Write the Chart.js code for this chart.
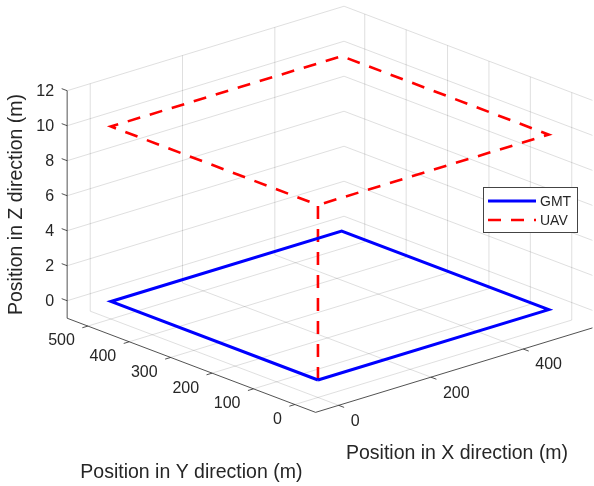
<!DOCTYPE html>
<html>
<head>
<meta charset="utf-8">
<script src="https://cdn.jsdelivr.net/npm/chart.js@4/dist/chart.umd.min.js"></script>
<style>
  html, body { margin: 0; padding: 0; background: #fff; }
  #wrap { width: 594px; height: 486px; }
</style>
</head>
<body>
<div id="wrap"><canvas id="c" width="594" height="486"></canvas></div>
<script>
// Tick values of the three axes
const xTicks = [0, 200, 400];
const yTicks = [0, 100, 200, 300, 400, 500];
const zTicks = [0, 2, 4, 6, 8, 10, 12];

// Axis limits
const xLimits = [-50, 550];
const yLimits = [-50, 550];
const zLimits = [-1, 12];

// Ground mobile terminal path (m)
const gmtX = [0, 500, 500, 0, 0];
const gmtY = [0, 0, 500, 500, 0];
const gmtZ = [0, 0, 0, 0, 0];

// UAV path (m): climb, then loop at altitude
const uavX = [0, 0, 0, 500, 500, 0];
const uavY = [0, 0, 500, 500, 0, 0];
const uavZ = [0, 10, 10, 10, 10, 10];

// Orthographic view of the plot box
const view = { azDeg: 41.9, sinEl: 0.34, zAspect: 0.6116 };
// Extent of the projected plane covered by the canvas
const frame = { xMin: -0.8866, xMax: 0.7102, yMin: -0.7438, yMax: 0.5626 };

const az = view.azDeg * Math.PI / 180;
const cA = Math.cos(az), sA = Math.sin(az);
function project(x, y, z) {
  const u = (x - (xLimits[0] + xLimits[1]) / 2) / (xLimits[1] - xLimits[0]);
  const v = (y - (yLimits[0] + yLimits[1]) / 2) / (yLimits[1] - yLimits[0]);
  const w = (z - (zLimits[0] + zLimits[1]) / 2) / (zLimits[1] - zLimits[0]);
  return {
    x: u * cA - v * sA,
    y: view.sinEl * (u * sA + v * cA) + view.zAspect * w
  };
}
function path(xs, ys, zs) {
  return xs.map((x, i) => project(x, ys[i], zs[i]));
}

const TEXT = '#262626';
const FONT = '"Liberation Sans", Arial, Helvetica, sans-serif';

const box3d = {
  id: 'box3d',
  beforeDatasetsDraw(chart) {
    const ctx = chart.ctx;
    const sx = chart.scales.x, sy = chart.scales.y;
    const P = (x, y, z) => {
      const p = project(x, y, z);
      return [sx.getPixelForValue(p.x), sy.getPixelForValue(p.y)];
    };
    const seg = (a, b) => {
      ctx.beginPath(); ctx.moveTo(a[0], a[1]); ctx.lineTo(b[0], b[1]); ctx.stroke();
    };
    const [x0, x1] = xLimits, [y0, y1] = yLimits, [z0, z1] = zLimits;
    ctx.save();
    // grid on floor and the two back walls
    ctx.strokeStyle = 'rgba(38,38,38,0.15)';
    ctx.lineWidth = 1;
    xTicks.forEach(t => { seg(P(t, y0, z0), P(t, y1, z0)); seg(P(t, y1, z0), P(t, y1, z1)); });
    yTicks.forEach(t => { seg(P(x0, t, z0), P(x1, t, z0)); seg(P(x1, t, z0), P(x1, t, z1)); });
    zTicks.forEach(t => { seg(P(x0, y1, t), P(x1, y1, t)); seg(P(x1, y0, t), P(x1, y1, t)); });

    // axis lines
    ctx.strokeStyle = TEXT;
    ctx.lineWidth = 0.8;
    seg(P(x0, y0, z0), P(x1, y0, z0));
    seg(P(x0, y0, z0), P(x0, y1, z0));
    seg(P(x0, y1, z0), P(x0, y1, z1));

    // tick marks
    const tx = 0.02 * (x1 - x0), ty = 0.022 * (y1 - y0);
    xTicks.forEach(t => seg(P(t, y0, z0), P(t, y0 - ty, z0)));
    yTicks.forEach(t => seg(P(x0, t, z0), P(x0 - tx, t, z0)));
    zTicks.forEach(t => seg(P(x0, y1, t), P(x0, y1 + ty, t)));

    // tick labels
    ctx.fillStyle = TEXT;
    ctx.font = '16px ' + FONT;
    ctx.textBaseline = 'middle';
    ctx.textAlign = 'left';
    xTicks.forEach(t => { const p = P(t, y0, z0); ctx.fillText(String(t), p[0] + 12, p[1] + 16); });
    ctx.textAlign = 'right';
    yTicks.forEach(t => { const p = P(x0, t, z0); ctx.fillText(String(t), p[0] - 13, p[1] + 15); });
    zTicks.forEach(t => { const p = P(x0, y1, t); ctx.fillText(String(t), p[0] - 13, p[1] + 1); });

    // axis titles
    ctx.font = '19.5px ' + FONT;
    ctx.textAlign = 'center';
    const xm = P((x0 + x1) / 2, y0, z0);
    ctx.fillText('Position in X direction (m)', xm[0] + 3, xm[1] + 83);
    const ym = P(x0, (y0 + y1) / 2, z0);
    ctx.fillText('Position in Y direction (m)', ym[0], ym[1] + 107);
    const zm = P(x0, y1, (z0 + z1) / 2);
    ctx.translate(17, zm[1]);
    ctx.rotate(-Math.PI / 2);
    ctx.fillText('Position in Z direction (m)', 0, 0);
    ctx.restore();
  },
  afterDatasetsDraw(chart) {
    // legend box inside the plot area
    const ctx = chart.ctx;
    const bx = 483, by = 187, bw = 94, bh = 45;
    ctx.save();
    ctx.fillStyle = '#fff';
    ctx.fillRect(bx, by, bw, bh);
    ctx.strokeStyle = '#444';
    ctx.lineWidth = 1;
    ctx.strokeRect(bx + 0.5, by + 0.5, bw, bh);
    ctx.font = '14px ' + FONT;
    ctx.textBaseline = 'middle';
    ctx.textAlign = 'left';
    chart.data.datasets.forEach((ds, i) => {
      const ly = by + 14 + i * 19;
      ctx.strokeStyle = ds.borderColor;
      ctx.lineWidth = ds.borderWidth;
      ctx.setLineDash(ds.borderDash || []);
      ctx.beginPath(); ctx.moveTo(bx + 5, ly); ctx.lineTo(bx + 53, ly); ctx.stroke();
      ctx.setLineDash([]);
      ctx.fillStyle = TEXT;
      ctx.fillText(ds.label, bx + 57, ly + 1);
    });
    ctx.restore();
  }
};

new Chart(document.getElementById('c'), {
  type: 'scatter',
  data: {
    datasets: [
      {
        label: 'GMT',
        data: path(gmtX, gmtY, gmtZ),
        showLine: true,
        borderColor: '#0000ff',
        backgroundColor: '#0000ff',
        borderWidth: 3,
        pointRadius: 0,
        borderJoinStyle: 'miter',
        tension: 0
      },
      {
        label: 'UAV',
        data: path(uavX, uavY, uavZ),
        showLine: true,
        borderColor: '#ff0000',
        backgroundColor: '#ff0000',
        borderWidth: 2.6,
        borderDash: [13, 10],
        pointRadius: 0,
        borderJoinStyle: 'miter',
        tension: 0
      }
    ]
  },
  options: {
    responsive: false,
    animation: false,
    layout: { padding: 0 },
    plugins: { legend: { display: false }, tooltip: { enabled: false } },
    scales: {
      x: { type: 'linear', display: false, min: frame.xMin, max: frame.xMax },
      y: { type: 'linear', display: false, min: frame.yMin, max: frame.yMax }
    }
  },
  plugins: [box3d]
});
</script>
</body>
</html>
